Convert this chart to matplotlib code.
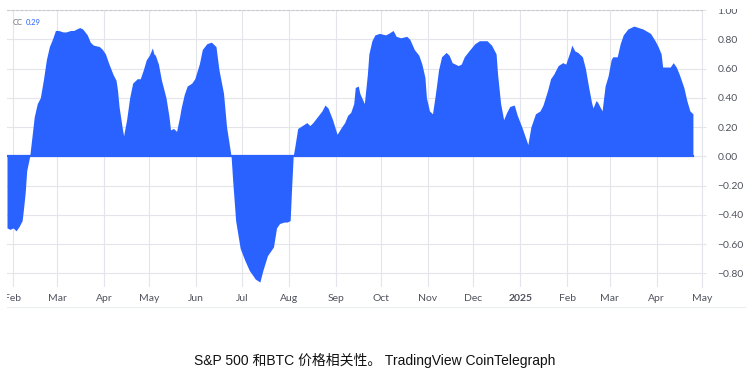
#!/usr/bin/env python3

import matplotlib
matplotlib.use("Agg")
import matplotlib.pyplot as plt
from matplotlib.patches import Rectangle
from matplotlib.lines import Line2D
import pandas as pd


# Correlation coefficient (S&P 500 vs BTC)
dates = [
	"2024-01-28", "2024-01-30", "2024-02-01", "2024-02-03", "2024-02-05", "2024-02-07",
	"2024-02-08", "2024-02-09", "2024-02-10", "2024-02-12", "2024-02-14", "2024-02-15",
	"2024-02-17", "2024-02-19", "2024-02-21", "2024-02-23", "2024-02-25", "2024-02-27",
	"2024-02-29", "2024-03-02", "2024-03-05", "2024-03-07", "2024-03-10", "2024-03-12",
	"2024-03-16", "2024-03-18", "2024-03-21", "2024-03-23", "2024-03-25", "2024-03-29",
	"2024-03-31", "2024-04-02", "2024-04-04", "2024-04-07", "2024-04-09", "2024-04-10",
	"2024-04-11", "2024-04-13", "2024-04-14", "2024-04-16", "2024-04-18", "2024-04-20",
	"2024-04-23", "2024-04-25", "2024-04-27", "2024-04-29", "2024-05-01", "2024-05-03",
	"2024-05-04", "2024-05-05", "2024-05-07", "2024-05-09", "2024-05-12", "2024-05-14",
	"2024-05-15", "2024-05-17", "2024-05-19", "2024-05-21", "2024-05-22", "2024-05-24",
	"2024-05-26", "2024-05-29", "2024-05-31", "2024-06-03", "2024-06-05", "2024-06-08",
	"2024-06-11", "2024-06-14", "2024-06-16", "2024-06-19", "2024-06-21", "2024-06-24",
	"2024-06-25", "2024-06-27", "2024-06-30", "2024-07-03", "2024-07-06", "2024-07-10",
	"2024-07-13", "2024-07-15", "2024-07-18", "2024-07-22", "2024-07-24", "2024-07-26",
	"2024-07-29", "2024-07-31", "2024-08-02", "2024-08-03", "2024-08-04", "2024-08-05",
	"2024-08-07", "2024-08-10", "2024-08-13", "2024-08-15", "2024-08-17", "2024-08-20",
	"2024-08-23", "2024-08-25", "2024-08-27", "2024-08-30", "2024-09-02", "2024-09-05",
	"2024-09-07", "2024-09-09", "2024-09-11", "2024-09-13", "2024-09-14", "2024-09-16",
	"2024-09-17", "2024-09-20", "2024-09-22", "2024-09-23", "2024-09-25", "2024-09-27",
	"2024-09-30", "2024-10-04", "2024-10-06", "2024-10-09", "2024-10-11", "2024-10-14",
	"2024-10-18", "2024-10-20", "2024-10-23", "2024-10-26", "2024-10-28", "2024-10-30",
	"2024-10-31", "2024-11-02", "2024-11-04", "2024-11-06", "2024-11-08", "2024-11-10",
	"2024-11-13", "2024-11-15", "2024-11-17", "2024-11-21", "2024-11-23", "2024-11-25",
	"2024-11-28", "2024-12-02", "2024-12-05", "2024-12-10", "2024-12-13", "2024-12-16",
	"2024-12-17", "2024-12-19", "2024-12-21", "2024-12-23", "2024-12-25", "2024-12-28",
	"2024-12-30", "2025-01-02", "2025-01-04", "2025-01-06", "2025-01-08", "2025-01-11",
	"2025-01-14", "2025-01-16", "2025-01-19", "2025-01-21", "2025-01-23", "2025-01-26",
	"2025-01-29", "2025-01-31", "2025-02-03", "2025-02-04", "2025-02-06", "2025-02-08",
	"2025-02-11", "2025-02-13", "2025-02-15", "2025-02-17", "2025-02-18", "2025-02-20",
	"2025-02-21", "2025-02-23", "2025-02-24", "2025-02-26", "2025-02-28", "2025-03-02",
	"2025-03-03", "2025-03-06", "2025-03-08", "2025-03-10", "2025-03-13", "2025-03-17",
	"2025-03-20", "2025-03-23", "2025-03-28", "2025-03-31", "2025-04-02", "2025-04-04",
	"2025-04-05", "2025-04-08", "2025-04-10", "2025-04-12", "2025-04-14", "2025-04-16",
	"2025-04-19", "2025-04-21", "2025-04-23", "2025-04-25",
]

cc = [
	-0.49, -0.50, -0.49, -0.51, -0.48, -0.44,
	-0.35, -0.25, -0.10, 0.00, 0.18, 0.27,
	0.36, 0.40, 0.52, 0.66, 0.75, 0.80,
	0.86, 0.86, 0.85, 0.85, 0.86, 0.86,
	0.88, 0.87, 0.83, 0.78, 0.76, 0.75,
	0.73, 0.70, 0.64, 0.56, 0.52, 0.45,
	0.34, 0.20, 0.14, 0.25, 0.40, 0.50,
	0.53, 0.53, 0.59, 0.66, 0.69, 0.74,
	0.70, 0.69, 0.63, 0.52, 0.40, 0.27,
	0.18, 0.19, 0.17, 0.27, 0.33, 0.42,
	0.48, 0.50, 0.53, 0.63, 0.73, 0.77,
	0.78, 0.75, 0.59, 0.43, 0.20, 0.00,
	-0.16, -0.44, -0.63, -0.71, -0.78, -0.84,
	-0.86, -0.78, -0.68, -0.62, -0.49, -0.46,
	-0.45, -0.45, -0.44, -0.21, 0.00, 0.06,
	0.19, 0.21, 0.23, 0.21, 0.23, 0.27,
	0.31, 0.35, 0.33, 0.25, 0.15, 0.20,
	0.23, 0.28, 0.30, 0.36, 0.47, 0.48,
	0.43, 0.36, 0.56, 0.70, 0.79, 0.83,
	0.84, 0.83, 0.84, 0.86, 0.82, 0.81,
	0.82, 0.80, 0.73, 0.69, 0.63, 0.54,
	0.40, 0.31, 0.29, 0.43, 0.59, 0.68,
	0.71, 0.69, 0.64, 0.62, 0.63, 0.68,
	0.72, 0.77, 0.79, 0.79, 0.76, 0.70,
	0.56, 0.36, 0.25, 0.30, 0.34, 0.35,
	0.28, 0.20, 0.14, 0.08, 0.20, 0.29,
	0.31, 0.35, 0.45, 0.53, 0.56, 0.62,
	0.64, 0.63, 0.72, 0.76, 0.72, 0.71,
	0.68, 0.60, 0.48, 0.37, 0.33, 0.38,
	0.37, 0.33, 0.31, 0.48, 0.55, 0.66,
	0.68, 0.68, 0.77, 0.83, 0.87, 0.89,
	0.88, 0.87, 0.84, 0.79, 0.75, 0.70,
	0.61, 0.61, 0.61, 0.64, 0.61, 0.56,
	0.47, 0.38, 0.31, 0.29,
]

month_labels = ["Feb", "Mar", "Apr", "May", "Jun", "Jul", "Aug", "Sep", "Oct",
	"Nov", "Dec", "2025", "Feb", "Mar", "Apr", "May"]
y_ticks = [1.0, 0.8, 0.6, 0.4, 0.2, 0.0, -0.2, -0.4, -0.6, -0.8]

caption = "S&P 500 和BTC 价格相关性。 TradingView CoinTelegraph"

BLUE = "#2962ff"
GRID = "#e3e5ea"
TEXT = "#50535e"
FONT = "Lato"


def main():
	W, H = 755, 372
	fig = plt.figure(figsize=(W / 100, H / 100), dpi=100)
	fig.patch.set_facecolor("white")

	# plot pane: x 7..702 px, y 10..287 px
	ax = fig.add_axes([7 / W, 1 - 287 / H, 695 / W, 277 / H])
	x = pd.to_datetime(dates)

	ax.fill_between(x, cc, 0, color=BLUE, linewidth=0, zorder=3)
	ax.plot([x[0], x[-1]], [0, 0], color=BLUE, lw=1.6, zorder=3)

	ax.set_xlim(pd.Timestamp("2024-01-28"), pd.Timestamp("2025-05-01"))
	ax.set_ylim(-0.894, 1.0)

	# month gridlines
	months = pd.date_range("2024-02-01", "2025-05-01", freq="MS")
	ax.set_xticks(months)
	ax.set_xticklabels(month_labels)
	for lab in ax.get_xticklabels():
		if lab.get_text() == "2025":
			lab.set_fontweight("bold")
	ax.set_yticks(y_ticks)
	ax.set_yticklabels(["%.2f" % v if v >= 0 else "\u2212%.2f" % -v for v in y_ticks])
	ax.yaxis.tick_right()

	ax.grid(True, color=GRID, lw=0.8, zorder=0)
	ax.tick_params(axis="x", length=0, pad=5, labelsize=7.5, labelcolor=TEXT)
	ax.tick_params(axis="y", length=3, width=0.8, color=GRID, pad=8, labelsize=7.5, labelcolor=TEXT)
	for lab in ax.get_xticklabels() + ax.get_yticklabels():
		lab.set_fontfamily(FONT)

	for side in ["left", "bottom"]:
		ax.spines[side].set_visible(False)
	ax.spines["right"].set_color(GRID)
	ax.spines["right"].set_linewidth(0.8)
	ax.spines["top"].set_color("#c8cad0")
	ax.spines["top"].set_linestyle((0, (2, 2)))
	ax.spines["top"].set_linewidth(0.8)

	# legend-ish label in the top left corner
	ax.text(0.008, 0.955, "CC", transform=ax.transAxes, fontsize=5.5, color="#6a6d78",
		family=FONT, va="center", ha="left")
	ax.text(0.0265, 0.955, "0.29", transform=ax.transAxes, fontsize=5.5, color=BLUE,
		family=FONT, va="center", ha="left")

	# bottom border of the time scale
	fig.add_artist(Line2D([7 / W, 745 / W], [1 - 307 / H, 1 - 307 / H], color="#ebedf0", lw=0.8))

	# screenshot crop: left strip and top strip are cut off
	fig.add_artist(Rectangle((0, 0), 7 / W, 1, transform=fig.transFigure,
		facecolor="white", edgecolor="none", zorder=10))
	fig.add_artist(Rectangle((0, 1 - 8.5 / H), 1, 8.5 / H, transform=fig.transFigure,
		facecolor="white", edgecolor="none", zorder=10))

	fig.text(374.5 / W, 1 - 360 / H, caption, ha="center", va="center", fontsize=10,
		color="#111111", family=["Liberation Sans", "Noto Sans CJK SC"])

	fig.savefig("out.png", dpi=100, facecolor="white")


if __name__ == "__main__":
	main()
